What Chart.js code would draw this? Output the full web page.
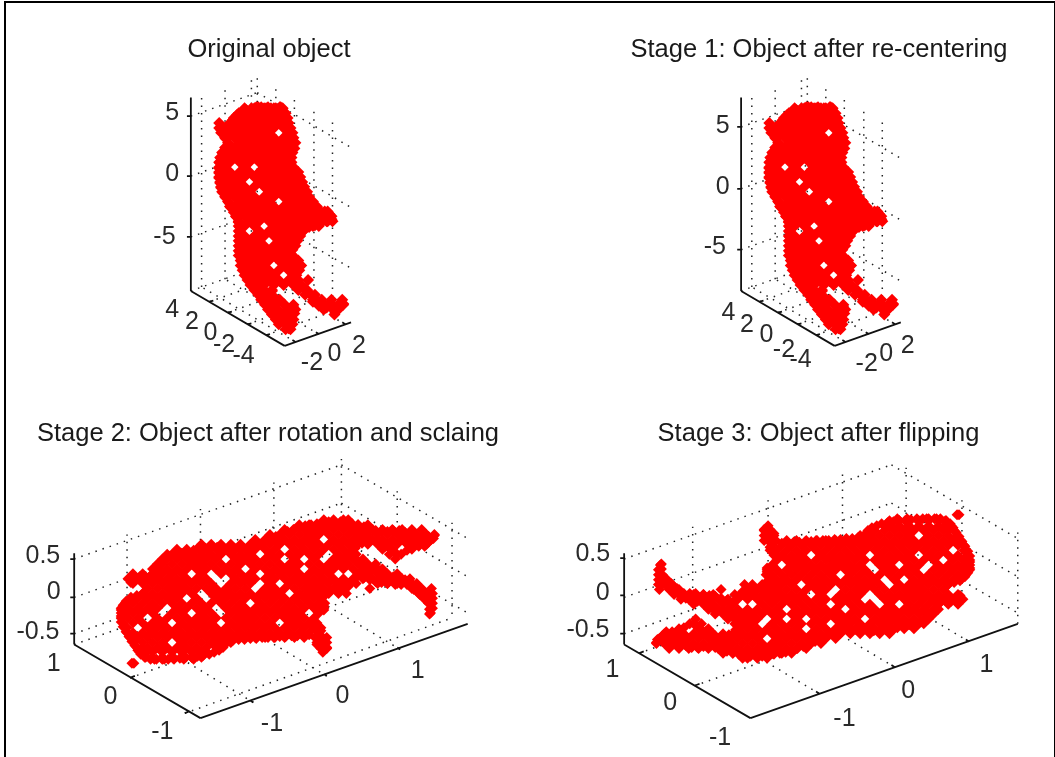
<!DOCTYPE html>
<html>
<head>
<meta charset="utf-8">
<script src="https://cdn.jsdelivr.net/npm/chart.js@4"></script>
<style>
    html, body { margin: 0; background: #fff; }
    #fig { position: relative; width: 1055px; height: 757px; overflow: hidden; }
    #frame { position: absolute; left: 4px; top: 1px; width: 1048px; height: 770px; border: 2px solid #000; }
    canvas { position: absolute; }
</style>
</head>
<body>
<div id="fig"><div id="frame"></div></div>
<script>
const panelTitles = [
    "Original object",
    "Stage 1: Object after re-centering",
    "Stage 2: Object after rotation and sclaing",
    "Stage 3: Object after flipping"
];

// projected points of the object, one row per screen height: [height, across, across, ...]
const uprightRows = [
    [108,258,268,281],
    [109,244,254,264,274,283],
    [114,238,249,259,269,279,286],
    [119,233,244,254,264,274,284,288],
    [124,218,229,239,249,259,269,279,289],
    [129,218,224,234,244,254,264,274,284,291],
    [134,220,229,239,249,259,269,289,293],
    [139,224,234,244,254,264,274,284,294],
    [144,227,239,249,259,269,279,289,296],
    [149,224,234,244,254,264,274,284,294],
    [154,221,229,239,249,259,269,279,289,293],
    [159,219,224,234,244,254,264,274,284,292],
    [164,218,229,239,249,259,269,279,289,292],
    [169,218,224,244,264,274,284,294],
    [174,218,229,239,249,259,269,279,289,299],
    [179,218,224,234,244,254,264,274,284,294,301],
    [184,219,229,239,259,269,279,289,299,303],
    [189,220,224,234,244,254,264,274,284,294,305],
    [194,221,229,239,249,269,279,289,299,308],
    [199,224,234,244,254,264,274,284,294,304,310],
    [204,227,239,249,259,269,289,299,309,314],
    [209,229,234,244,254,264,274,284,294,304,314,318],
    [214,234,239,249,259,269,279,289,299,309,319,329],
    [219,235,244,254,264,274,284,294,304,314,324,333],
    [224,238,249,259,269,279,289,299,309,319,329,334],
    [229,238,244,254,274,284,294,304,314,320],
    [234,238,259,269,279,289,299,304],
    [239,238,244,254,264,274,284,294,298],
    [244,238,249,259,279,289,296],
    [249,238,244,254,264,274,284,292],
    [254,238,249,259,269,279,289,291],
    [259,238,244,254,264,274,284,293],
    [264,240,249,259,269,279,289,299],
    [269,240,244,254,264,284,294,302],
    [274,242,249,259,269,279,289,299],
    [279,244,254,264,274,294,296],
    [284,247,259,269,279,289,298,309],
    [289,250,254,264,274,284,294,302],
    [294,254,264,272,299,308],
    [299,258,268,271,306,316],
    [304,261,271,280,314,323,333,344],
    [309,265,275,285,294,320,330,340,345],
    [314,268,278,288,296,325,335,340],
    [319,272,282,292,336],
    [324,276,286,294],
    [329,279,289,293],
    [334,286,291]
];

// points along the rim of the same object: x, y, x, y, ...
const uprightRim = [
    219,129,220,131,232,121,236,116,241,113,246,111,251,109,256,108,261,108,266,109,271,109,276,109,280,108,282,110,
    284,115,285,120,286,125,288,130,290,135,292,140,294,145,295,150,292,155,291,160,291,165,294,170,296,175,299,180,
    301,185,304,190,306,195,308,200,311,205,314,209,320,212,326,214,331,217,333,222,328,224,322,226,316,228,310,230,
    304,234,301,239,298,244,296,249,293,253,291,257,295,261,298,265,301,269,300,274,297,279,299,284,302,289,306,293,
    310,297,314,301,318,305,324,307,330,309,336,311,342,309,345,308,341,312,336,315,328,312,320,310,314,306,
    272,295,276,303,284,308,292,312,295,318,293,324,291,330,289,333,286,329,282,324,278,318,274,312,270,306,265,300,
    261,295,256,290,252,285,249,280,246,275,243,270,241,265,240,260,239,255,239,250,239,245,239,240,239,235,239,230,
    238,225,236,220,233,215,230,210,228,205,225,200,222,195,220,190,219,185,218,180,218,175,218,170,219,165,220,160,
    222,155,225,150,228,145,225,140
];

const layingRows = [
    [521,325,335,345,350],
    [526,300,310,320,330,340,350,360,370],
    [531,285,295,305,315,325,335,345,355,365,375,385,395,405,415,425],
    [536,270,280,290,300,310,320,330,340,350,360,370,380,390,400,410,420,430,438],
    [541,255,265,275,285,295,305,315,335,345,355,365,375,385,395,405,415,425,435],
    [546,200,210,220,230,240,250,260,270,280,290,300,310,320,330,340,350,360,370,380,390,400,410,420,430],
    [551,175,185,195,205,215,225,235,245,255,265,275,295,305,315,325,335,345,355,385,395,415],
    [556,165,170,180,190,200,210,220,230,240,250,270,280,290,300,310,320,340,350,358,392,400],
    [561,160,165,175,185,195,205,215,235,245,255,265,275,295,315,335,345,355,365,398],
    [566,155,160,170,180,190,200,210,220,230,240,250,260,270,280,290,300,310,320,330,340,350,360,370,378],
    [571,150,155,165,175,185,195,205,215,225,235,255,265,275,285,295,315,325,335,345,355,365,375,385],
    [576,130,140,150,160,170,180,200,220,230,240,250,270,280,290,300,310,320,330,360,370,380,390,400],
    [581,125,135,145,155,165,175,185,195,205,235,245,255,265,275,285,295,305,315,325,335,345,355,365,375,385,395,405,413],
    [586,130,140,150,160,170,180,190,200,210,230,240,250,270,290,300,310,320,330,340,350,358,380,390,400,410,420],
    [591,145,155,165,175,185,195,205,215,225,235,245,265,275,285,295,305,315,325,335,345,372,415,425,435],
    [596,140,150,160,170,180,190,210,220,230,240,250,260,270,280,300,310,320,330,340,348,422,432,436],
    [601,128,135,145,155,165,175,195,215,225,235,245,255,265,275,285,295,305,315,323,428,436],
    [606,122,130,140,150,160,170,180,190,200,210,220,230,240,260,270,280,290,300,310,320,326,432,436],
    [611,118,125,135,145,155,175,185,195,205,225,235,245,255,265,275,285,295,305,315,325,436],
    [616,118,124,130,140,150,170,180,200,210,230,240,250,260,270,280,290,300,320,434],
    [621,118,125,135,155,165,175,185,195,205,215,225,235,245,255,265,275,285,295,305,315],
    [626,120,130,140,150,160,180,190,200,210,230,240,250,260,270,290,300,310,318],
    [631,124,145,155,165,175,185,195,205,215,225,235,245,255,265,275,285,295,305,315,322],
    [636,124,130,140,150,160,170,180,190,200,210,220,230,240,250,260,270,280,290,300,310,320],
    [641,127,135,145,155,165,175,185,195,205,215,225,235,245,255,265,275,285,295,305,316,328],
    [646,131,140,150,160,180,190,200,210,220,230,318,326],
    [651,134,140,145,155,165,175,185,195,205,215,222,322,328],
    [656,137,144,150,160,170,180,190,200,213,324],
    [661,142,150,160,170,180,190,200],
    [663,152,162,172,182,192],
    [667,129,131]
];

const layingRim = [
    128,585,130,581,137,579,144,580,149,577,153,571,157,566,162,562,168,558,174,556,180,555,186,553,192,552,198,551,
    204,550,210,549,216,549,222,549,228,549,234,550,240,551,246,551,252,550,258,547,264,544,270,541,276,538,282,535,
    288,533,294,531,300,529,306,527,312,526,318,525,324,524,330,523,336,523,342,523,348,524,354,525,360,526,366,528,
    372,530,378,532,384,533,390,533,396,532,402,532,408,534,414,536,420,537,426,538,432,538,438,537,437,540,432,544,
    428,548,422,548,416,549,410,552,404,556,398,555,393,551,388,548,380,542,372,542,364,545,357,550,352,554,357,560,
    363,566,370,569,378,569,384,572,390,577,396,579,402,581,408,582,414,585,420,589,426,593,432,597,435,601,435,606,
    433,612,433,617,428,602,423,597,417,592,410,587,404,587,398,587,390,586,384,585,378,584,372,582,366,580,360,578,
    354,584,350,589,344,590,338,590,332,593,327,597,322,601,321,606,325,609,325,613,319,615,316,625,320,630,322,634,
    320,638,310,638,304,638,298,639,292,639,286,640,280,640,274,641,268,641,262,641,256,642,250,642,244,643,238,643,
    232,644,226,646,222,650,218,654,208,658,202,659,196,660,190,661,184,661,178,662,172,662,166,663,160,663,154,663,
    148,663,143,661,138,658,135,654,132,649,129,645,126,640,123,635,120,630,118,625,118,619,118,613,120,608,123,604,
    128,600,134,598,140,596,320,643,318,648,322,652,328,652,328,646,324,641
];

// axis boxes as line pieces [x1, y1, x2, y2], in the same projected units
const uprightAxes = [[189,98,189,295],[189,295,285,351],[285,351,353,327]];
const uprightFloorTicks = [[208,306,212,305],[227,317,231,316],[247,329,251,328],[266,340,270,339],[296,347,293,345],[320,339,317,337],[347,329,344,327]];
const uprightGrid = [
    [200,291,200,94],[224,283,224,86],[251,273,251,76],[257,271,257,74],[276,282,276,85],[295,293,295,96],[315,305,315,108],[334,316,334,119],
    [189,295,257,271],[208,306,276,282],[227,317,295,293],[247,329,315,305],[266,340,334,316],
    [296,347,200,291],[320,339,224,283],[347,329,251,273]
];
const originalLevels = [[189,117,257,93],[257,93,353,149],[189,178,257,154],[257,154,353,210],[189,240,257,216],[257,216,353,272]];
const originalZTicks = [[185,117,189,117],[185,178,189,178],[185,240,189,240]];
const centeredLevels = [[189,128,257,104],[257,104,353,160],[189,191,257,167],[257,167,353,223],[189,253,257,229],[257,229,353,285]];
const centeredZTicks = [[185,128,189,128],[185,191,189,191],[185,253,189,253]];

const rotatedAxes = [[70,555,70,648],[70,648,199,723],[199,723,472,627]];
const rotatedTicks = [[66,561,70,561],[66,600,70,600],[66,637,70,637],[127,682,132,680],[183,718,188,716],[253,707,250,705],[328,680,325,678],[403,653,400,651]];
const rotatedGrid = [
    [124,629,124,536],[199,603,199,510],[274,576,274,483],[343,552,343,459],[400,585,400,492],[456,617,456,524],
    [70,648,343,552],[127,682,400,585],[183,718,456,621],
    [253,707,124,629],[328,680,199,603],[403,653,274,576],
    [70,561,343,465],[343,465,472,540],[70,600,343,504],[343,504,472,579],[70,637,343,541],[343,541,472,616]
];

const flippedAxes = [[620,555,620,648],[620,648,749,723],[749,723,1022,627]];
const flippedTicks = [[616,560,620,560],[616,598,620,598],[616,637,620,637],[635,657,640,655],[692,690,697,688],[819,698,816,696],[896,671,893,669],[972,645,969,643]];
const flippedGrid = [
    [690,621,690,528],[767,594,767,501],[843,568,843,475],[908,561,908,468],[965,594,965,501],[1022,627,1022,534],
    [635,657,908,561],[692,690,965,594],
    [819,698,690,621],[896,671,767,594],[972,645,843,568],
    [620,561,893,465],[893,465,1022,540],[620,600,893,504],[893,504,1022,579],[620,637,893,541],[893,541,1022,616]
];

// tick labels: text, then where they sit
const originalLabels = ["5","0","-5","4","2","0","-2","-4","-2","0","2"];
const originalLabelX = [170,170,162,170,190,209,223,243,313,336,361];
const originalLabelY = [112,174,238,313,325,336,348,359,367,357,349];
const centeredLabels = ["5","0","-5","4","2","0","-2","-4","-2","0","2"];
const centeredLabelX = [170,170,162,176,195,215,233,250,318,338,360];
const centeredLabelY = [125,187,248,316,328,338,353,363,368,357,349];
const rotatedLabels = ["0.5","0","-0.5","1","0","-1","-1","0","1"];
const rotatedLabelX = [38,49,33,49,107,160,272,344,421];
const rotatedLabelY = [556,593,633,666,700,735,727,699,673];
const flippedLabels = ["0.5","0","-0.5","1","0","-1","-1","0","1"];
const flippedLabelX = [588,598,583,608,667,718,845,910,990];
const flippedLabelY = [554,594,631,672,706,741,722,693,667];

const FONT = "'Liberation Sans', Arial, sans-serif";
const HEAD = 40; // title block height inside each canvas

function cloudPoints(rows, rim) {
    const pts = [];
    rows.forEach(function (r) {
        r.slice(1).forEach(function (x) { pts.push({ x: x, y: r[0] }); });
    });
    for (let i = 0; i < rim.length; i += 2) {
        pts.push({ x: rim[i], y: rim[i + 1] });
    }
    return pts;
}

function piecesToPoints(pieces) {
    const pts = [];
    pieces.forEach(function (p) {
        pts.push({ x: p[0], y: p[1] }, { x: p[2], y: p[3] }, { x: null, y: null });
    });
    return pts;
}

// draws the 3d axis tick labels through the chart's own scales
const tickLabelPlugin = {
    id: 'tickLabels',
    afterDraw: function (chart, args, opts) {
        const ctx = chart.ctx;
        ctx.save();
        ctx.font = "25px " + FONT;
        ctx.fillStyle = '#2a2a2a';
        ctx.textAlign = 'center';
        ctx.textBaseline = 'middle';
        opts.text.forEach(function (t, i) {
            ctx.fillText(t, chart.scales.x.getPixelForValue(opts.x[i]), chart.scales.y.getPixelForValue(opts.y[i]) + 2);
        });
        ctx.restore();
    }
};

function addPanel(p) {
    const canvas = document.createElement('canvas');
    canvas.width = p.w;
    canvas.height = p.h;
    canvas.style.left = p.left + 'px';
    canvas.style.top = p.top + 'px';
    document.getElementById('fig').appendChild(canvas);

    new Chart(canvas.getContext('2d'), {
        type: 'scatter',
        data: {
            datasets: [
                { data: cloudPoints(p.rows, p.rim), xAxisID: 'cx', yAxisID: 'cy', showLine: false, pointStyle: 'rectRot', pointRadius: p.radius, backgroundColor: '#ff0000', borderWidth: 0, order: 1 },
                { data: piecesToPoints(p.axes), showLine: true, pointRadius: 0, borderColor: '#111', borderWidth: 1.8, order: 2 },
                { data: piecesToPoints(p.grid), showLine: true, pointRadius: 0, borderColor: '#222', borderWidth: 1.5, borderDash: [1.5, 6], order: 3 }
            ]
        },
        options: {
            responsive: false,
            animation: false,
            devicePixelRatio: 1,
            clip: false,
            spanGaps: false,
            layout: { padding: 0 },
            scales: {
                x: { display: false, min: p.x0, max: p.x0 + p.w },
                y: { display: false, reverse: true, min: p.y0 + HEAD, max: p.y0 + p.h },
                cx: { display: false, axis: 'x', reverse: p.flip, min: p.cx0, max: p.cx0 + p.w },
                cy: { display: false, axis: 'y', reverse: !p.flip, min: p.cy0, max: p.cy0 + p.h - HEAD }
            },
            plugins: {
                legend: { display: false },
                tooltip: { enabled: false },
                title: {
                    display: true,
                    text: p.title,
                    color: '#1a1a1a',
                    font: { family: FONT, size: 25.5, weight: 'normal' },
                    padding: { top: 4.4, bottom: 5 }
                },
                tickLabels: { text: p.labels, x: p.labelX, y: p.labelY }
            }
        },
        plugins: [tickLabelPlugin]
    });
}

addPanel({
    title: panelTitles[0], left: 10, top: 30, w: 518, h: 370,
    x0: 10, y0: 30, cx0: 10, cy0: 70, flip: false, radius: 6,
    rows: uprightRows, rim: uprightRim,
    axes: uprightAxes.concat(uprightFloorTicks, originalZTicks),
    grid: uprightGrid.concat(originalLevels),
    labels: originalLabels, labelX: originalLabelX, labelY: originalLabelY
});

addPanel({
    title: panelTitles[1], left: 590, top: 30, w: 458, h: 370,
    x0: 40, y0: 30, cx0: 40, cy0: 70, flip: false, radius: 6,
    rows: uprightRows, rim: uprightRim,
    axes: uprightAxes.concat(uprightFloorTicks, centeredZTicks),
    grid: uprightGrid.concat(centeredLevels),
    labels: centeredLabels, labelX: centeredLabelX, labelY: centeredLabelY
});

addPanel({
    title: panelTitles[2], left: 8, top: 414, w: 520, h: 343,
    x0: 8, y0: 414, cx0: 8, cy0: 454, flip: false, radius: 5.5,
    rows: layingRows, rim: layingRim,
    axes: rotatedAxes.concat(rotatedTicks),
    grid: rotatedGrid,
    labels: rotatedLabels, labelX: rotatedLabelX, labelY: rotatedLabelY
});

// stage 3 shows the same points turned over, so its cloud scales simply run backwards
addPanel({
    title: panelTitles[3], left: 555, top: 414, w: 527, h: 343,
    x0: 555, y0: 414, cx0: 9, cy0: 426, flip: true, radius: 5.5,
    rows: layingRows, rim: layingRim,
    axes: flippedAxes.concat(flippedTicks),
    grid: flippedGrid,
    labels: flippedLabels, labelX: flippedLabelX, labelY: flippedLabelY
});
</script>
</body>
</html>
